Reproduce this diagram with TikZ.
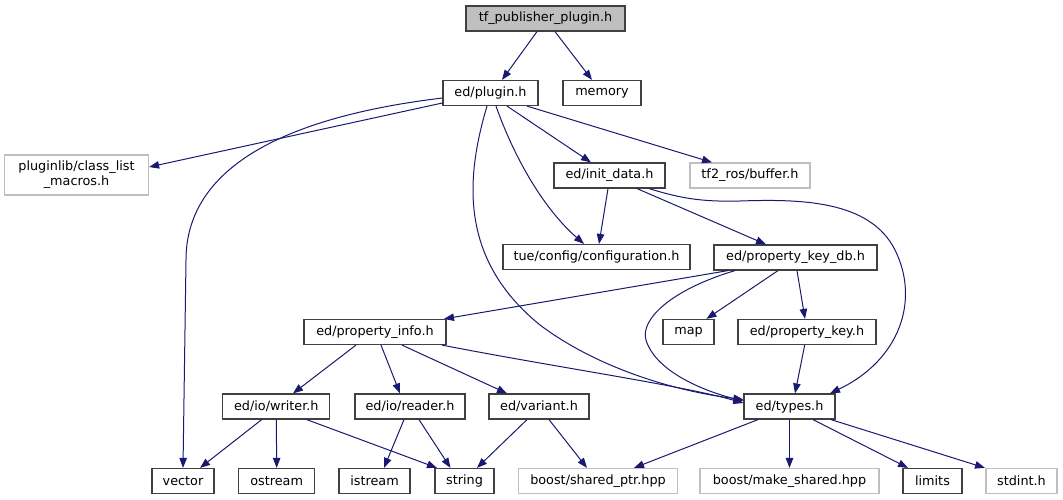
\documentclass[tikz,border=0pt]{standalone}
\usepackage{fontspec}
\setmainfont{DejaVu Sans}
\usetikzlibrary{arrows.meta}
\definecolor{edgecol}{HTML}{191970}
\definecolor{boxline}{HTML}{404040}
\definecolor{greyline}{HTML}{BFBFBF}
\definecolor{mainfill}{HTML}{BFBFBF}
\tikzset{
  hdr/.style={draw=boxline, line width=1.2pt, fill=white, inner sep=0pt, minimum height=25pt, font=\fontsize{12.8}{15}\selectfont},
  ext/.style={hdr, draw=greyline},
  mainbox/.style={hdr, fill=mainfill},
  edge/.style={draw=edgecol, line width=1pt, -{Triangle[length=10pt,width=7.5pt,fill=edgecol]}},
}
\begin{document}
\begin{tikzpicture}[x=1pt,y=-1pt]
\useasboundingbox (0,0) rectangle (1063,500);
% nodes
\node[mainbox, minimum width=159pt] (tfp) at (545.5,18.5) {tf\_publisher\_plugin.h};
\node[hdr, minimum width=95pt] (plugin) at (490.5,93) {ed/plugin.h};
\node[hdr, minimum width=78pt] (memory) at (602,93) {memory};
\node[ext, minimum width=144pt, minimum height=40pt, align=center] (pluginlib) at (76.5,175) {pluginlib/class\_list\\\_macros.h};
\node[hdr, minimum width=111pt] (initdata) at (609.5,175.5) {ed/init\_data.h};
\node[ext, minimum width=120pt] (tf2) at (750,175.5) {tf2\_ros/buffer.h};
\node[hdr, minimum width=187pt] (tueconf) at (596.5,257) {tue/config/configuration.h};
\node[hdr, minimum width=163pt] (pkdb) at (795.5,257.5) {ed/property\_key\_db.h};
\node[hdr, minimum width=142pt] (pinfo) at (375,332) {ed/property\_info.h};
\node[hdr, minimum width=51pt] (map) at (688.5,332) {map};
\node[hdr, minimum width=138pt] (pkey) at (807,332) {ed/property\_key.h};
\node[hdr, minimum width=107pt] (writer) at (276.3,406.5) {ed/io/writer.h};
\node[hdr, minimum width=110pt] (reader) at (410,406.5) {ed/io/reader.h};
\node[hdr, minimum width=100pt] (variant) at (539,406.5) {ed/variant.h};
\node[hdr, minimum width=91pt] (types) at (789.5,406.5) {ed/types.h};
\node[hdr, minimum width=62pt] (vector) at (183,481) {vector};
\node[hdr, minimum width=76pt] (ostream) at (276.7,481) {ostream};
\node[hdr, minimum width=71pt] (istream) at (374.5,481) {istream};
\node[hdr, minimum width=59pt] (string) at (464.5,481) {string};
\node[ext, minimum width=159pt] (sptr) at (598,481) {boost/shared\_ptr.hpp};
\node[ext, minimum width=179pt] (mkshared) at (789.5,481) {boost/make\_shared.hpp};
\node[hdr, minimum width=59pt] (limits) at (932.5,481) {limits};
\node[ext, minimum width=71pt] (stdint) at (1021.5,481) {stdint.h};
% edges
\draw[edge] ([xshift=-8.5pt]tfp.south) -- ([xshift=11.5pt]plugin.north);
\draw[edge] ([xshift=9.5pt]tfp.south) -- ([xshift=-10pt]memory.north);
\draw[edge] ([yshift=-10pt]plugin.west) -- ([yshift=8pt]pluginlib.east);
\draw[edge] ([yshift=-5pt]plugin.west) .. controls (260,120) and (186,180) .. (186,260) -- (vector.north);
\draw[edge] ([xshift=-3.5pt]plugin.south) .. controls (465,180) and (460,260) .. (540,325) .. controls (600,370) and (680,392) .. ([yshift=7pt]types.west);
\draw[edge] ([xshift=5.5pt]plugin.south) .. controls (515,160) and (545,210) .. ([xshift=-12.5pt]tueconf.north);
\draw[edge] ([xshift=16.5pt]plugin.south) -- ([xshift=-18.5pt]initdata.north);
\draw[edge] ([xshift=36.5pt]plugin.south) -- ([xshift=-38pt]tf2.north);
\draw[edge] ([xshift=-1.5pt]initdata.south) -- ([xshift=2.5pt]tueconf.north);
\draw[edge] ([xshift=27.5pt]initdata.south) -- ([xshift=-29.5pt]pkdb.north);
\draw[edge] ([xshift=39.5pt]initdata.south) .. controls (680,198) and (700,202) .. (740,201) .. controls (800,199) and (870,200) .. (895,250) .. controls (920,300) and (900,360) .. ([xshift=40.5pt]types.north);
\draw[edge] ([xshift=-67.5pt]pkdb.south) -- ([xshift=69pt]pinfo.north);
\draw[edge] ([xshift=-60.5pt]pkdb.south) .. controls (670,290) and (640,320) .. (646,340) .. controls (655,370) and (700,390) .. ([yshift=5.5pt]types.west);
\draw[edge] ([xshift=-17.5pt]pkdb.south) -- ([xshift=18pt]map.north);
\draw[edge] ([xshift=1.5pt]pkdb.south) -- ([xshift=-2pt]pkey.north);
\draw[edge] ([xshift=-2.3pt]pkey.south) -- ([xshift=5.5pt]types.north);
\draw[edge] ([xshift=-19pt]pinfo.south) -- ([xshift=16.7pt]writer.north);
\draw[edge] ([xshift=6pt]pinfo.south) -- ([xshift=-10pt]reader.north);
\draw[edge] ([xshift=27pt]pinfo.south) -- ([xshift=-32pt]variant.north);
\draw[edge] ([xshift=67pt]pinfo.south) .. controls (560,368) and (680,385) .. ([yshift=3.5pt]types.west);
\draw[edge] ([xshift=-14.6pt]writer.south) -- ([xshift=17pt]vector.north);
\draw[edge] (writer.south) -- (ostream.north);
\draw[edge] ([xshift=30.4pt]writer.south) -- ([xshift=-27.5pt]string.north);
\draw[edge] ([xshift=-6pt]reader.south) -- ([xshift=9.5pt]istream.north);
\draw[edge] ([xshift=9pt]reader.south) -- ([xshift=-14pt]string.north);
\draw[edge] ([xshift=-12pt]variant.south) -- ([xshift=12.5pt]string.north);
\draw[edge] ([xshift=10pt]variant.south) -- ([xshift=-11pt]sptr.north);
\draw[edge] ([xshift=-31.5pt]types.south) -- ([xshift=36pt]sptr.north);
\draw[edge] (types.south) -- (mkshared.north);
\draw[edge] ([xshift=23.5pt]types.south) -- ([xshift=-24.5pt]limits.north);
\draw[edge] ([xshift=41.5pt]types.south) -- ([xshift=-36.5pt]stdint.north);
\end{tikzpicture}
\end{document}
